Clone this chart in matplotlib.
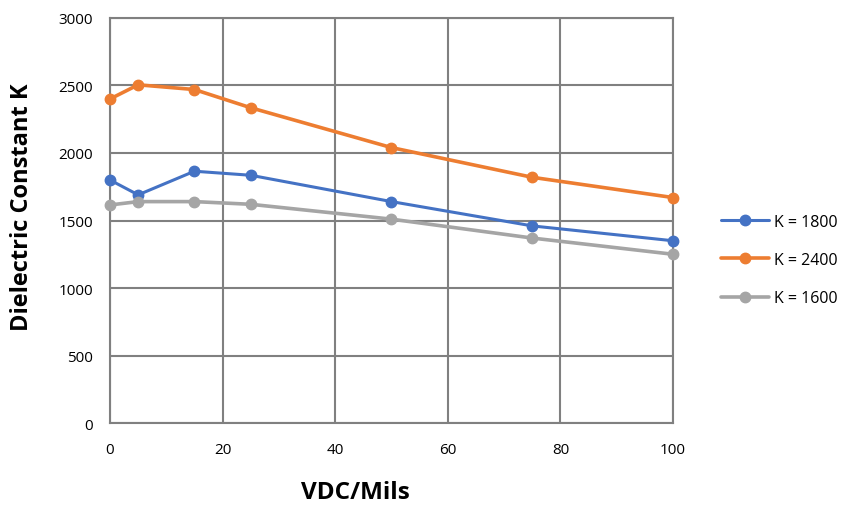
import matplotlib
matplotlib.use("Agg")
import matplotlib.pyplot as plt

x = [0, 5, 15, 25, 50, 75, 100]
k1800 = [1800, 1690, 1865, 1835, 1640, 1460, 1350]
k2400 = [2400, 2505, 2470, 2335, 2040, 1820, 1670]
k1600 = [1615, 1640, 1640, 1620, 1510, 1370, 1250]
labels = ["K = 1800", "K = 2400", "K = 1600"]
colors = ["#4472C4", "#ED7D31", "#A5A5A5"]

plt.rcParams['font.family'] = ['Open Sans', 'DejaVu Sans']

fig = plt.figure(figsize=(8.41, 5.06), dpi=100)
ax = fig.add_axes([0.1308, 0.162, 0.6694, 0.8005])

for ys, lab, c, lw in zip([k1800, k2400, k1600], labels, colors, [2.2, 2.6, 2.6]):
    ax.plot(x, ys, color=c, lw=lw, marker='o', ms=7.5, label=lab,
            solid_capstyle='round', clip_on=False, zorder=3)

ax.set_xlim(0, 100)
ax.set_ylim(0, 3000)
ax.set_xticks(range(0, 101, 20))
ax.set_yticks(range(0, 3001, 500))
ax.grid(True, color='#808080', lw=1.5)
ax.set_axisbelow(True)
for s in ax.spines.values():
    s.set_color('#808080')
    s.set_linewidth(1.5)
ax.tick_params(length=0, labelsize=11, colors='#000000')
ax.tick_params(axis='x', pad=14)
ax.tick_params(axis='y', pad=12)

fig.text(355 / 841, 1 - 493 / 506, "VDC/Mils", fontsize=17.5, fontweight='bold',
         ha='center', va='center')
fig.text(22 / 841, 1 - 207 / 506, "Dielectric Constant K", fontsize=17,
         fontweight='bold', ha='center', va='center', rotation=90)

leg = ax.legend(loc='center left', bbox_to_anchor=(715 / 841, 1 - 261 / 506),
                bbox_transform=fig.transFigure, frameon=False,
                fontsize=11.5, labelspacing=1.4, handlelength=3.0, handletextpad=0.3,
                borderaxespad=0)

fig.savefig("out.png", dpi=100)
